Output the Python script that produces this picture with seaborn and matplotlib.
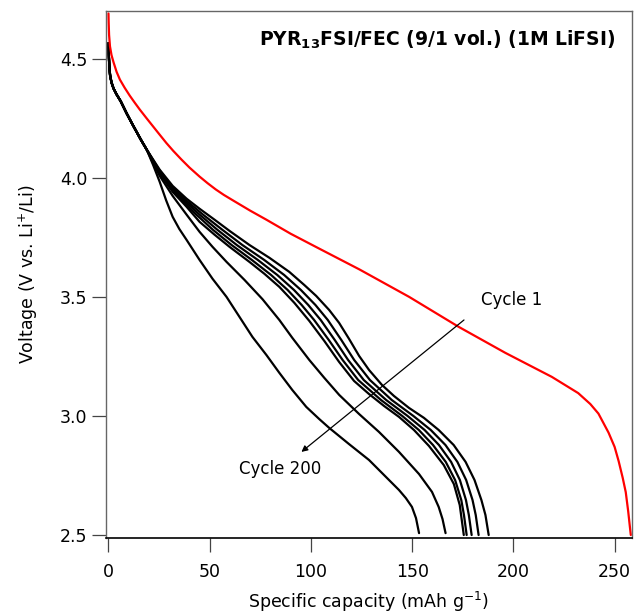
"""Discharge curves, PYR13FSI/FEC electrolyte."""

import matplotlib

matplotlib.use("Agg")
import matplotlib.pyplot as plt
import pandas as pd
import seaborn as sns

# cycle 1 (red)
cap_c1 = [0, 0.1, 0.3, 0.74, 1.5, 2.5, 4, 5.66, 8, 10.5, 13, 15.5, 19, 22, 25, 28.6, 32, 36,
          40, 45, 49, 53, 57, 61.5, 70, 78, 90, 104, 124, 148.5, 173, 196, 219, 232, 238, 242,
          247, 250, 252, 254, 255.5, 256.7, 257.6, 258]
volt_c1 = [4.69, 4.65, 4.60, 4.552, 4.515, 4.485, 4.445, 4.412, 4.378, 4.345, 4.315, 4.286,
           4.248, 4.216, 4.184, 4.146, 4.113, 4.077, 4.043, 4.005, 3.977, 3.951, 3.928, 3.905,
           3.862, 3.824, 3.765, 3.703, 3.615, 3.50, 3.374, 3.265, 3.164, 3.096, 3.05, 3.01,
           2.93, 2.87, 2.81, 2.74, 2.68, 2.60, 2.53, 2.50]

# shared start of the later cycles
cap_start = [0, 0.15, 0.4, 0.8, 1.5, 2.5, 4, 6, 9, 12, 16, 18.9]
volt_start = [4.565, 4.52, 4.47, 4.43, 4.40, 4.375, 4.35, 4.322, 4.27, 4.222, 4.16, 4.118]

# later cycles, from the highest capacity one down to cycle 200
cap_a = [25.3, 31.7, 38.6, 45.0, 52.4, 59.8, 69.6, 79.5, 89.3, 96.7, 102.6, 109.0, 113.9,
         118.8, 123.8, 128.7, 135.1, 141.0, 148.4, 155.8, 163.1, 170.5, 176.4, 180.8, 184.2,
         186.2, 187.8]
volt_a = [4.034, 3.966, 3.912, 3.870, 3.824, 3.777, 3.718, 3.664, 3.605, 3.550, 3.504, 3.445,
          3.391, 3.324, 3.252, 3.193, 3.130, 3.084, 3.034, 2.992, 2.941, 2.878, 2.807, 2.731,
          2.647, 2.584, 2.500]

volt_mid = [4.034, 3.966, 3.908, 3.845, 3.782, 3.718, 3.655, 3.592, 3.529, 3.466, 3.403,
            3.319, 3.235, 3.151, 3.067, 3.0, 2.941, 2.878, 2.807, 2.731, 2.647, 2.584, 2.50]
cap_b = [24.95, 31.05, 37.94, 46.75, 56.20, 66.09, 76.92, 86.76, 95.03, 102.21, 108.32,
         115.01, 121.36, 129.13, 139.91, 150.59, 159.20, 166.44, 172.34, 176.67, 179.82,
         181.40, 182.82]
cap_c = [24.70, 30.51, 37.01, 45.03, 53.74, 63.34, 73.77, 83.37, 91.63, 98.67, 104.82,
         111.76, 118.36, 126.08, 137.16, 147.74, 156.15, 163.24, 169.24, 173.57, 176.57,
         178.00, 179.38]
cap_d = [24.46, 30.07, 36.17, 43.45, 51.53, 60.78, 70.82, 80.31, 88.48, 95.42, 101.57,
         108.81, 115.65, 123.33, 134.60, 145.08, 153.30, 160.29, 166.59, 171.21, 174.26,
         175.59, 176.92]

cap_e = [25.3, 31.7, 38.6, 45.0, 52.4, 59.8, 69.6, 77.0, 84.4, 91.8, 99.2, 106.6, 113.9,
         121.3, 128.7, 136.1, 143.5, 150.9, 158.3, 165.6, 170.6, 173.5, 175.5]
volt_e = [4.017, 3.941, 3.878, 3.815, 3.761, 3.710, 3.647, 3.597, 3.542, 3.475, 3.399, 3.315,
          3.227, 3.147, 3.092, 3.042, 2.996, 2.941, 2.874, 2.794, 2.714, 2.626, 2.500]

cap_f = [22, 25.3, 31.7, 38.6, 45.0, 51.4, 58.3, 67.2, 76.1, 84.4, 90.8, 99.2, 106.6, 114.0,
         123.8, 133.6, 143.5, 153.4, 159.8, 163.1, 165.0, 166.5]
volt_f = [4.062, 4.008, 3.924, 3.845, 3.773, 3.710, 3.647, 3.571, 3.490, 3.403, 3.328, 3.235,
          3.160, 3.088, 3.008, 2.933, 2.849, 2.756, 2.681, 2.618, 2.567, 2.508]

cap_g = [22, 25.3, 28.5, 31.7, 35, 38.6, 45.0, 51.4, 58.3, 64.7, 71.1, 78.0, 84.4, 90.8,
         97.7, 104.1, 109.0, 118.8, 128.7, 136.1, 143.5, 146.9, 149.9, 151.9, 153.4]
volt_g = [4.055, 3.983, 3.905, 3.836, 3.785, 3.739, 3.655, 3.576, 3.500, 3.416, 3.332, 3.256,
          3.181, 3.109, 3.038, 2.987, 2.950, 2.882, 2.815, 2.752, 2.689, 2.655, 2.618, 2.571,
          2.508]

later_cycles = [(cap_a, volt_a), (cap_b, volt_mid), (cap_c, volt_mid), (cap_d, volt_mid),
                (cap_e, volt_e), (cap_f, volt_f), (cap_g, volt_g)]

X_TICKS = [0, 50, 100, 150, 200, 250]
Y_TICKS = [2.5, 3.0, 3.5, 4.0, 4.5]


def main() -> None:
    sns.set_style("ticks")
    plt.rcParams["font.family"] = ["DejaVu Sans"]
    plt.rcParams["text.color"] = "black"
    plt.rcParams["axes.labelcolor"] = "black"

    fig = plt.figure(figsize=(6.35, 6.15), dpi=100)
    ax = fig.add_axes([0.167, 0.125, 0.828, 0.857])

    for cap, volt in later_cycles:
        df = pd.DataFrame({"cap": cap_start + cap, "volt": volt_start + volt})
        sns.lineplot(data=df, x="cap", y="volt", sort=False, estimator=None,
                     color="black", linewidth=1.6, ax=ax)

    df1 = pd.DataFrame({"cap": cap_c1, "volt": volt_c1})
    sns.lineplot(data=df1, x="cap", y="volt", sort=False, estimator=None,
                 color="#ff0000", linewidth=1.6, ax=ax)

    ax.set_xlim(-1.2, 258.5)
    ax.set_ylim(2.487, 4.70)
    ax.set_xticks(X_TICKS)
    ax.set_yticks(Y_TICKS)
    ax.set_yticklabels([f"{v:.1f}" for v in Y_TICKS])
    ax.tick_params(axis="both", direction="out", length=10, width=0.9, labelsize=12.5,
                   colors="#444444", labelcolor="black")
    ax.tick_params(axis="x", pad=8)
    for side in ["top", "right", "left"]:
        ax.spines[side].set_color("#666666")
        ax.spines[side].set_linewidth(1.0)
    ax.spines["bottom"].set_color("black")
    ax.spines["bottom"].set_linewidth(1.2)

    ax.set_xlabel("Specific capacity (mAh g$^{\\mathregular{-1}}$)", fontsize=12.5, labelpad=6)
    ax.set_ylabel("Voltage (V vs. Li$^{\\mathregular{+}}$/Li)", fontsize=12.5, labelpad=14)

    ax.text(0.968, 0.945, "PYR$_{\\mathbf{13}}$FSI/FEC (9/1 vol.) (1M LiFSI)",
            transform=ax.transAxes, ha="right", va="center", fontsize=13.5, fontweight="bold")

    ax.annotate("", xy=(95.3, 2.849), xytext=(175.6, 3.403),
                arrowprops=dict(arrowstyle="-|>", color="black", lw=0.9,
                                mutation_scale=9, shrinkA=0, shrinkB=0))
    ax.text(199, 3.487, "Cycle 1", ha="center", va="center", fontsize=12)
    ax.text(85, 2.777, "Cycle 200", ha="center", va="center", fontsize=12)

    fig.savefig("out.png", dpi=100)


if __name__ == "__main__":
    main()
